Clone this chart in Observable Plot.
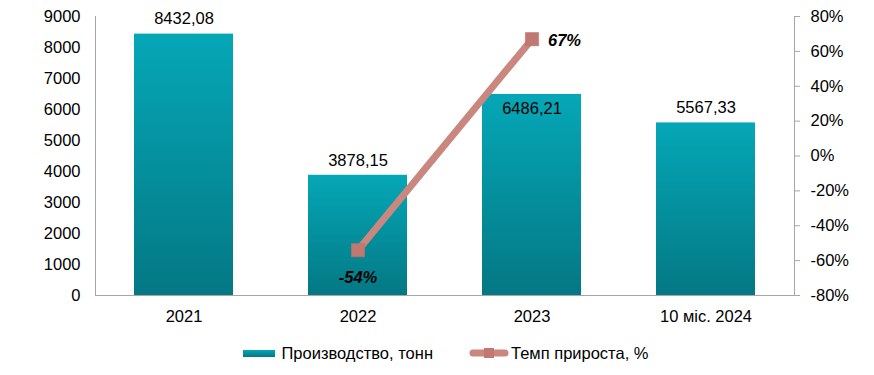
<!DOCTYPE html>
<html>
<head>
<meta charset="utf-8">
<script src="https://cdn.jsdelivr.net/npm/d3@7"></script>
<script src="https://cdn.jsdelivr.net/npm/@observablehq/plot@0.6"></script>
<style>
  body { margin: 0; background: #fff; font-family: "Liberation Sans", Arial, sans-serif; }
  #legend { display: flex; justify-content: center; align-items: center; height: 36px; font-size: 16.5px; color: #000; margin-left: 18px; }
  .item { display: flex; align-items: center; margin: 0 18px; }
</style>
</head>
<body>
<div id="chart"></div>
<div id="legend">
  <div class="item"><span style="display:inline-block;width:32px;height:7px;background:linear-gradient(#05a5b5,#047985);margin-right:6px"></span>Производство, тонн</div>
  <div class="item"><svg width="40" height="14" style="margin-right:2px"><line x1="4" y1="7" x2="36" y2="7" stroke="#c9877f" stroke-width="7" stroke-linecap="round"/><rect x="15" y="2" width="10" height="10" fill="#c07870"/></svg>Темп прироста, %</div>
</div>
<script>
const categories = ["2021", "2022", "2023", "10 міс. 2024"];
const production = [8432.08, 3878.15, 6486.21, 5567.33];
const productionLabels = ["8432,08", "3878,15", "6486,21", "5567,33"];
const growthCategories = ["2022", "2023"];
const growth = [-54, 67];
const growthLabels = ["-54%", "67%"];
const leftTicks = [0, 1000, 2000, 3000, 4000, 5000, 6000, 7000, 8000, 9000];
const rightTicks = [-80, -60, -40, -20, 0, 20, 40, 60, 80];

const yMax = 9000;
const pMin = -80, pMax = 80;
const toY = p => (p - pMin) / (pMax - pMin) * yMax;

const bars = categories.map((c, i) => ({cat: c, value: production[i], label: productionLabels[i]}));
const line = growthCategories.map((c, i) => ({cat: c, pct: growth[i], label: growthLabels[i]}));

const chart = Plot.plot({
  width: 874,
  height: 335,
  marginLeft: 95,
  marginRight: 80,
  marginTop: 16,
  marginBottom: 40,
  style: {fontFamily: "Liberation Sans, Arial, sans-serif", fontSize: "16.5px", color: "#000"},
  x: {domain: categories, paddingInner: 0.43, paddingOuter: 0.215, align: 0.5},
  y: {domain: [0, yMax]},
  marks: [
    Plot.barY(bars, {x: "cat", y: "value", fill: "url(#barGrad)"}),
    Plot.frame({anchor: "left", stroke: "#a6a6a6"}),
    Plot.frame({anchor: "right", stroke: "#a6a6a6"}),
    Plot.frame({anchor: "bottom", stroke: "#a6a6a6"}),
    Plot.axisX({tickSize: 0, tickPadding: 15, label: null, fontSize: 16.5}),
    Plot.axisY({ticks: leftTicks, tickSize: 0, tickPadding: 15, label: null, tickFormat: d => String(d), fontSize: 16.5}),
    Plot.axisY({anchor: "right", ticks: rightTicks.map(toY), tickSize: 5, tickPadding: 11, label: null,
      tickFormat: v => Math.round(v / yMax * (pMax - pMin) + pMin) + "%", stroke: "#a6a6a6", textAnchor: "start", fontSize: 16.5}),
    Plot.text(bars.filter(d => d.cat !== "2023"), {x: "cat", y: "value", text: "label", dy: -15, fill: "#000", fontSize: 16.5}),
    Plot.text(bars.filter(d => d.cat === "2023"), {x: "cat", y: "value", text: "label", dy: 14, fill: "#000", fontSize: 16.5}),
    Plot.line(line, {x: "cat", y: d => toY(d.pct), stroke: "#c9877f", strokeWidth: 7}),
    Plot.dot(line, {x: "cat", y: d => toY(d.pct), symbol: "square", r: 7.5, fill: "#c07870", stroke: "#b8706a", strokeWidth: 0.5}),
    Plot.text(line.filter(d => d.pct < 0), {x: "cat", y: d => toY(d.pct), text: "label", dy: 28, fontWeight: "bold", fontStyle: "italic", fill: "#000", fontSize: 16.5}),
    Plot.text(line.filter(d => d.pct > 0), {x: "cat", y: d => toY(d.pct), text: "label", dx: 16, dy: 2, textAnchor: "start", fontWeight: "bold", fontStyle: "italic", fill: "#000", fontSize: 16.5})
  ]
});

const ns = "http://www.w3.org/2000/svg";
const defs = document.createElementNS(ns, "defs");
defs.innerHTML = `<linearGradient id="barGrad" x1="0" y1="0" x2="0" y2="1">
  <stop offset="0" stop-color="#05a7b7"/><stop offset="1" stop-color="#047884"/></linearGradient>`;
chart.insertBefore(defs, chart.firstChild);
document.getElementById("chart").appendChild(chart);
</script>
</body>
</html>
